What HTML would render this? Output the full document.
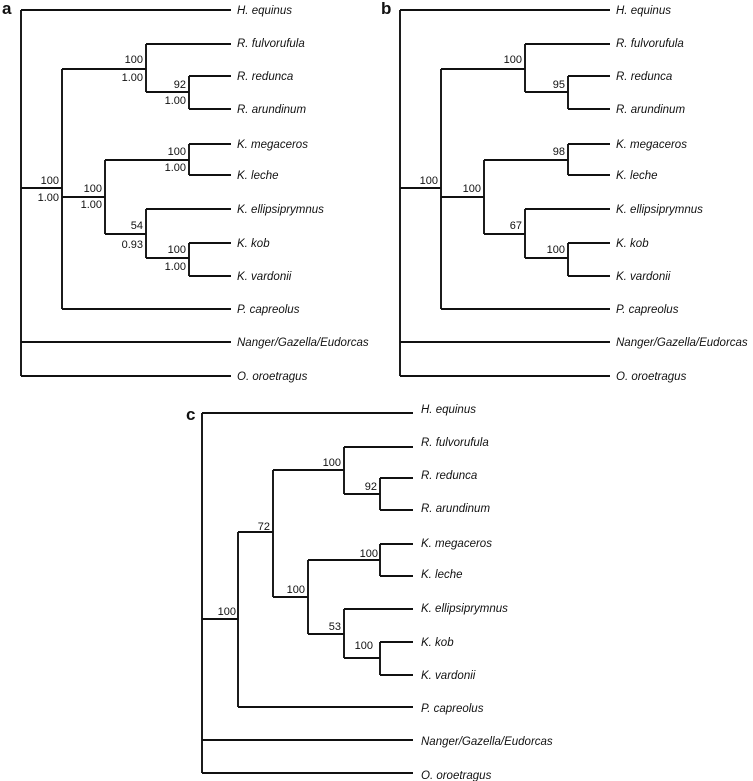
<!DOCTYPE html>
<html><head><meta charset="utf-8"><style>
html,body{margin:0;padding:0;background:#fff}
svg{display:block}
text{font-family:"Liberation Sans",sans-serif;font-size:11px;fill:#111}
.t{font-style:italic;font-size:11.5px}
.n{text-anchor:end}
.L{font-weight:bold;font-size:17px}
path{stroke:#111;stroke-width:1.9;fill:none}
</style></head><body>
<svg width="753" height="781" viewBox="0 0 753 781">
<defs>
<g id="tips">
<text class="t" x="237" y="14">H. equinus</text>
<text class="t" x="237" y="47">R. fulvorufula</text>
<text class="t" x="237" y="80">R. redunca</text>
<text class="t" x="237" y="113">R. arundinum</text>
<text class="t" x="237" y="148">K. megaceros</text>
<text class="t" x="237" y="179">K. leche</text>
<text class="t" x="237" y="213">K. ellipsiprymnus</text>
<text class="t" x="237" y="247">K. kob</text>
<text class="t" x="237" y="280">K. vardonii</text>
<text class="t" x="237" y="313">P. capreolus</text>
<text class="t" x="237" y="346">Nanger/Gazella/Eudorcas</text>
<text class="t" x="237" y="380">O. oroetragus</text>
</g>
<path id="tree" d="M21,10V376 M21,10H231 M21,342H231 M21,376H231 M21,188H62 M62,69V309 M62,309H231 M62,69H146 M146,44V92 M146,44H231 M146,92H189 M189,76V109 M189,76H231 M189,109H231 M62,197H105 M105,160V234 M105,160H189 M189,144V175 M189,144H231 M189,175H231 M105,234H146 M146,209V258 M146,209H231 M146,258H189 M189,243V276 M189,243H231 M189,276H231"/>
</defs>
<!-- a -->
<text class="L" x="2" y="14">a</text>
<use href="#tree"/><use href="#tips"/>
<text class="n" x="59" y="184">100</text><text class="n" x="59" y="201">1.00</text>
<text class="n" x="143" y="63">100</text><text class="n" x="143" y="81">1.00</text>
<text class="n" x="186" y="88">92</text><text class="n" x="186" y="104">1.00</text>
<text class="n" x="102" y="192">100</text><text class="n" x="102" y="208">1.00</text>
<text class="n" x="186" y="155">100</text><text class="n" x="186" y="171">1.00</text>
<text class="n" x="143" y="229">54</text><text class="n" x="143" y="248">0.93</text>
<text class="n" x="186" y="253">100</text><text class="n" x="186" y="270">1.00</text>
<!-- b -->
<g transform="translate(379,0)">
<text class="L" x="2" y="14">b</text>
<use href="#tree"/><use href="#tips"/>
<text class="n" x="59" y="184">100</text>
<text class="n" x="143" y="63">100</text>
<text class="n" x="186" y="88">95</text>
<text class="n" x="102" y="192">100</text>
<text class="n" x="186" y="155">98</text>
<text class="n" x="143" y="229">67</text>
<text class="n" x="186" y="253">100</text>
</g>
<!-- c -->
<text class="L" x="186" y="420">c</text>
<path d="M202,413V773 M202,413H413 M202,740H413 M202,773H413 M202,619H238 M238,532V707 M238,707H413 M238,532H273 M273,470V597 M273,470H344 M344,447V494 M344,447H413 M344,494H380 M380,478V510 M380,478H413 M380,510H413 M273,597H308 M308,560V634 M308,560H380 M380,544V576 M380,544H413 M380,576H413 M308,634H344 M344,609V658 M344,609H413 M344,658H380 M380,642V675 M380,642H413 M380,675H413"/>
<g transform="translate(184,399)"><use href="#tips"/></g>
<text class="n" x="236" y="615">100</text>
<text class="n" x="270" y="530">72</text>
<text class="n" x="341" y="466">100</text>
<text class="n" x="377" y="490">92</text>
<text class="n" x="305" y="593">100</text>
<text class="n" x="378" y="557">100</text>
<text class="n" x="341" y="630">53</text>
<text class="n" x="373" y="649">100</text>
</svg>
</body></html>
